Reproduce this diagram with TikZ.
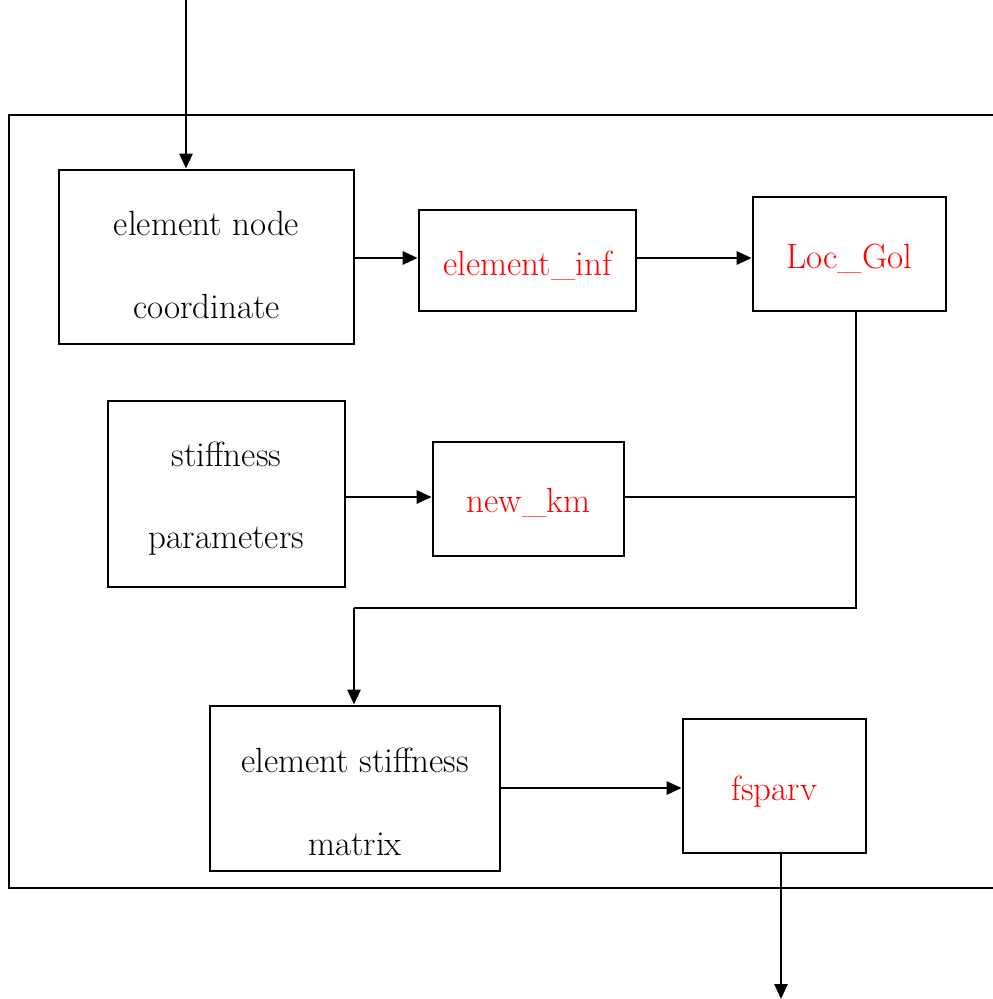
\documentclass[tikz,border=0pt]{standalone}
\usetikzlibrary{arrows.meta}
\begin{document}
\begin{tikzpicture}[x=1pt,y=-1pt,
  box/.style={draw=black,line width=2.7pt,rectangle,inner sep=0pt},
  txt/.style={anchor=base,inner sep=0pt,font=\fontsize{35}{42}\selectfont},
  rtxt/.style={txt,text={rgb,255:red,255;green,0;blue,0}},
  conn/.style={line width=2.7pt},
  arr/.style={conn,-{Triangle[length=15pt,width=13pt]}}]
\useasboundingbox (0,0) rectangle (993,999);
% outer frame (open on the right, cut off by the page)
\draw[conn] (993,115) -- (9,115) -- (9,888) -- (993,888);
% boxes
\node[box,minimum width=295pt,minimum height=174pt] (b1) at (206.5,257) {};
\node[txt] at (206.5,235) {element node};
\node[txt] at (206.5,318) {coordinate};
\node[box,minimum width=217pt,minimum height=101pt] (b2) at (527.5,260.5) {};
\node[rtxt] at (527.5,275) {element\_inf};
\node[box,minimum width=193pt,minimum height=114pt] (b3) at (849.5,254) {};
\node[rtxt] at (849.5,268) {Loc\_Gol};
\node[box,minimum width=237pt,minimum height=186pt] (b4) at (226.5,494) {};
\node[txt] at (226.5,466) {stiffness};
\node[txt] at (226.5,548) {parameters};
\node[box,minimum width=191pt,minimum height=114pt] (b5) at (528.5,499) {};
\node[rtxt] at (528.5,512) {new\_km};
\node[box,minimum width=290pt,minimum height=165pt] (b6) at (355,788.5) {};
\node[txt] at (355,772) {element stiffness};
\node[txt] at (355,855) {matrix};
\node[box,minimum width=183pt,minimum height=134pt] (b7) at (774.5,786) {};
\node[rtxt] at (774.5,800) {fsparv};
% coordinates
\coordinate (in) at (186,0);
\coordinate (out) at (781,999);
\coordinate (j1) at (856,497);
\coordinate (j2) at (856,608);
\coordinate (j3) at (354,608);
% connectors
\draw[arr] (in) -- (in |- b1.north);
\draw[arr] (b1.east |- 0,258) -- (b2.west |- 0,258);
\draw[arr] (b2.east |- 0,258) -- (b3.west |- 0,258);
\draw[conn] (b3.south -| j1) -- (j2) -- (j3);
\draw[arr] (j3) -- (j3 |- b6.north);
\draw[arr] (b4.east |- 0,497) -- (b5.west |- 0,497);
\draw[conn] (b5.east |- j1) -- (j1);
\draw[arr] (b6.east |- 0,788) -- (b7.west |- 0,788);
\draw[arr] (b7.south -| out) -- (out);
\end{tikzpicture}
\end{document}
